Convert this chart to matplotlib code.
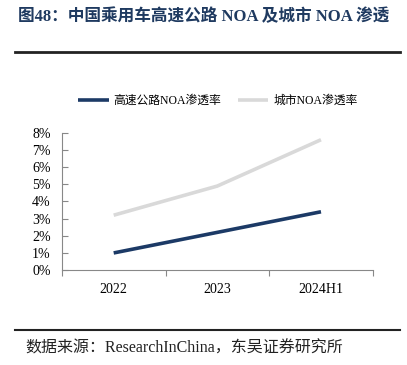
import matplotlib.pyplot as plt
from matplotlib.lines import Line2D
from matplotlib.ticker import FuncFormatter

# data
categories = ['2022', '2023', '2024H1']
highway_noa = [1.0, 2.2, 3.4]   # %
city_noa = [3.2, 4.9, 7.6]      # %

FONTS = ['Liberation Serif', 'Noto Sans CJK SC', 'DejaVu Sans']
plt.rcParams['font.family'] = FONTS

NAVY = '#1c3a66'
GREY = '#d9d9d9'

fig = plt.figure(figsize=(4.07, 3.65), dpi=100)

# title and rules
fig.text(0.5, 0.978, '图48：中国乘用车高速公路 NOA 及城市 NOA 渗透', ha='center', va='top',
         fontsize=12, fontweight='bold', color='#1f3a60')
fig.add_artist(Line2D([0.037, 0.983], [0.857, 0.857], color='#222222', lw=2))
fig.add_artist(Line2D([0.037, 0.983], [0.096, 0.096], color='#222222', lw=1.5))
fig.text(0.062, 0.022, '数据来源：ResearchInChina，东吴证券研究所', ha='left', va='bottom',
         fontsize=11.5, color='#222222')

ax = fig.add_axes([0.152, 0.260, 0.764, 0.376])
x = list(range(len(categories)))
ax.plot(x, highway_noa, color=NAVY, lw=2.6, solid_capstyle='butt', label='高速公路NOA渗透率')
ax.plot(x, city_noa, color=GREY, lw=2.6, solid_capstyle='butt', label='城市NOA渗透率')

ax.set_xlim(-0.5, 2.5)
ax.set_ylim(0, 8)
ax.set_yticks(range(0, 9))
ax.yaxis.set_major_formatter(FuncFormatter(lambda v, p: f'{int(v)}%'))
ax.set_xticks([-0.5, 0.5, 1.5, 2.5])
ax.set_xticklabels([])
ax.set_xticks(x, minor=True)
ax.set_xticklabels(categories, minor=True)
ax.tick_params(axis='x', which='major', length=4, color='#888888')
ax.tick_params(axis='x', which='minor', length=0, pad=9, labelsize=10)
ax.tick_params(axis='y', direction='in', length=4, color='#888888', labelsize=10, pad=8)

for s in ['top', 'right']:
    ax.spines[s].set_visible(False)
for s in ['left', 'bottom']:
    ax.spines[s].set_color('#888888')
    ax.spines[s].set_linewidth(0.8)

fig.legend(loc='center', bbox_to_anchor=(0.535, 0.723), ncol=2, frameon=False,
           fontsize=8.5, handlelength=2.6, handletextpad=0.4, columnspacing=1.4)

fig.savefig('out.png', dpi=100)
